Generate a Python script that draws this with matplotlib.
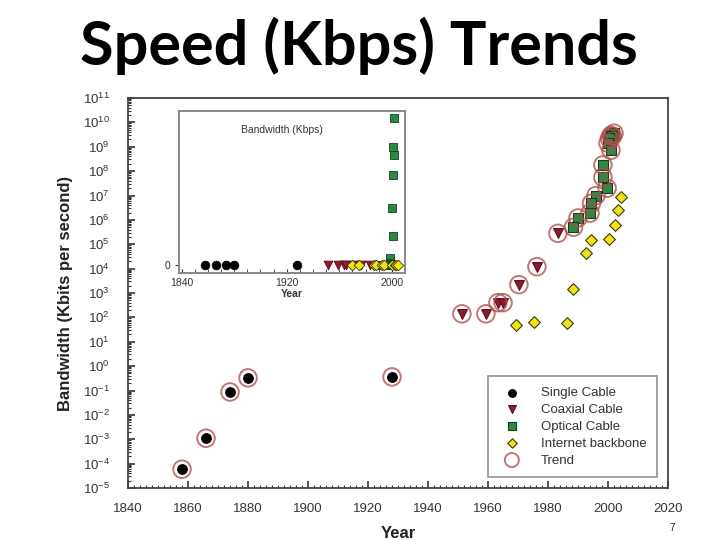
import numpy as np
import matplotlib
matplotlib.use("Agg")
import matplotlib.pyplot as plt
from matplotlib.ticker import LogLocator, MultipleLocator, FixedLocator, NullFormatter

# Data (year, Kbps)
single_years = [1858, 1866, 1874, 1880, 1928]
single_kbps = [5.9e-5, 1.1e-3, 0.087, 0.33, 0.36]

coax_years = [1951.3, 1959.3, 1963.3, 1965, 1970.3, 1976.3, 1983.3]
coax_kbps = [140, 140, 400, 400, 2200, 1.2e4, 2.8e5]

optical_years = [2002, 2001, 2001.5, 2000.5, 2000, 2001, 1998.3, 1998.3,
                 1999.7, 1996, 1994.5, 1994, 1990, 1988.5]
optical_kbps = [3.6e9, 2.9e9, 2.7e9, 2.2e9, 1.4e9, 7.2e8, 1.8e8, 5.6e7,
                2e7, 1e7, 4.8e6, 1.9e6, 1.2e6, 5e5]

internet_years = [1969.3, 1975.3, 1986.3, 1988.3, 1992.7, 1994.3, 2000.3,
                  2002.3, 2003.3, 2004.3]
internet_kbps = [50, 66, 60, 1500, 4.2e4, 1.45e5, 1.6e5, 5.9e5, 2.5e6, 8.5e6]

series = [
    ("Single Cable", single_years, single_kbps, "o", "black", "black"),
    ("Coaxial Cable", coax_years, coax_kbps, "v", "#8e1b2b", "#5a0f18"),
    ("Optical Cable", optical_years, optical_kbps, "s", "#2a8a45", "#163f20"),
    ("Internet backbone", internet_years, internet_kbps, "D", "#f2e414", "#3a3a10"),
]

trend_years = single_years + coax_years + optical_years
trend_kbps = single_kbps + coax_kbps + optical_kbps

plt.rcParams["font.family"] = ["Liberation Sans", "DejaVu Sans"]
plt.rcParams["mathtext.default"] = "regular"
plt.rcParams["axes.unicode_minus"] = False

fig = plt.figure(figsize=(7.2, 5.4), dpi=100)
ax = fig.add_axes([128 / 720, 1 - 488 / 540, 540 / 720, 390 / 540])

sizes = {"o": 48, "v": 50, "s": 46, "D": 36}
for name, xs, ys, m, fc, ec in series:
    ax.scatter(xs, ys, marker=m, s=sizes[m], facecolor=fc, edgecolor=ec,
               linewidth=0.8, zorder=3, label=name)
ax.scatter(trend_years, trend_kbps, marker="o", s=160, facecolor="none",
           edgecolor="#b04848", linewidth=1.4, alpha=0.75, zorder=4, label="Trend")

ax.set_yscale("log")
ax.set_ylim(1e-5, 1e11)
ax.set_xlim(1840, 2020)
ax.yaxis.set_major_locator(LogLocator(base=10, numticks=20))
ax.yaxis.set_minor_locator(LogLocator(base=10, subs=np.arange(2, 10), numticks=20))
ax.yaxis.set_minor_formatter(NullFormatter())
ax.xaxis.set_major_locator(MultipleLocator(20))
ax.xaxis.set_minor_locator(MultipleLocator(2))
ax.tick_params(which="both", direction="in", colors="#333333", labelsize=9.5)
ax.tick_params(which="major", length=5, width=1.2)
ax.tick_params(which="minor", length=2.5, width=0.8)
ax.tick_params(axis="x", pad=11)
ax.tick_params(axis="y", pad=13)
for s in ax.spines.values():
    s.set_color("#444444")
    s.set_linewidth(1.3)

ax.set_ylabel("Bandwidth (Kbits per second)", fontsize=12, fontweight="bold",
              color="#222222", labelpad=7)
ax.set_xlabel("Year", fontsize=12, fontweight="bold", color="#222222", labelpad=8)

leg = ax.legend(loc="lower right", bbox_to_anchor=(0.98, 0.028), fontsize=9.5,
                frameon=True, fancybox=False, edgecolor="#777777",
                labelspacing=0.35, handletextpad=1.2, borderpad=0.8,
                borderaxespad=0, scatterpoints=1, markerscale=0.8)
leg.get_frame().set_linewidth(1.2)
for t in leg.get_texts():
    t.set_color("#333333")

# Inset with linear scale
axi = fig.add_axes([179 / 720, 1 - 273 / 540, 226 / 720, 162 / 540])
vmax = max(optical_kbps)
for name, xs, ys, m, fc, ec in series:
    axi.scatter(xs, ys, marker=m, s=sizes[m] * 0.8, facecolor=fc, edgecolor=ec,
                linewidth=0.6, zorder=3)
axi.set_xlim(1838, 2010)
axi.set_ylim(-8 / 147 * vmax, 154 / 147 * vmax)
axi.xaxis.set_major_locator(FixedLocator([1840, 1920, 2000]))
axi.xaxis.set_minor_locator(MultipleLocator(10))
axi.yaxis.set_major_locator(FixedLocator([0]))
axi.set_yticklabels(["0"])
axi.tick_params(which="both", colors="#333333", labelsize=7.5)
axi.tick_params(axis="x", which="both", direction="in", length=3)
axi.tick_params(axis="y", direction="out", length=3)
axi.set_xlabel("Year", fontsize=7.5, fontweight="bold", color="#333333", labelpad=1)
axi.text(0.456, 0.88, "Bandwidth (Kbps)", transform=axi.transAxes, ha="center",
         va="center", fontsize=7.5, color="#333333")
for s in axi.spines.values():
    s.set_color("#888888")
    s.set_linewidth(1.4)

fig.text(359 / 720, 1 - 46 / 540, "Speed (Kbps) Trends", ha="center", va="center",
         fontsize=44, fontweight="bold", family=["Lato", "DejaVu Sans"])
fig.text(672 / 720, 1 - 528 / 540, "7", ha="center", va="center", fontsize=7,
         color="#222222")

fig.savefig("out.png", dpi=100)
